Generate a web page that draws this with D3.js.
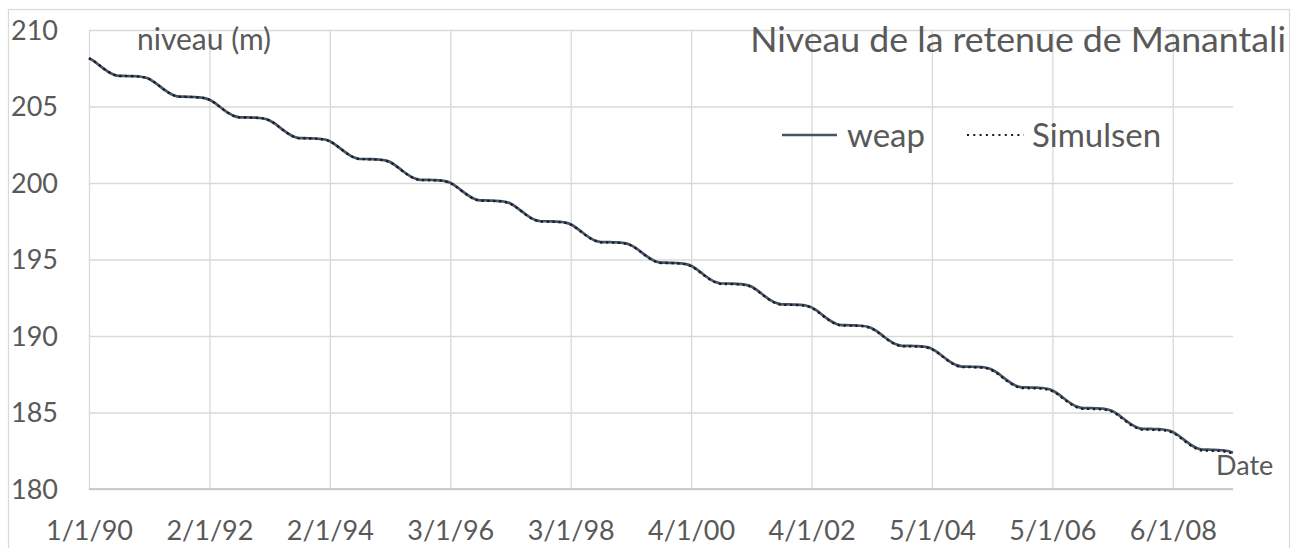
<!DOCTYPE html>
<html>
<head>
<meta charset="utf-8">
<script src="https://cdn.jsdelivr.net/npm/d3@7"></script>
<style>
  html, body { margin: 0; padding: 0; background: #fff; }
  svg { display: block; font-family: Lato, "Open Sans", sans-serif; }
</style>
</head>
<body>
<svg id="chart" width="1298" height="548"></svg>
<script>
// Date labels on the time axis (one label every 24 time steps)
const xTickLabels = ["1/1/90", "2/1/92", "2/1/94", "3/1/96", "3/1/98",
                     "4/1/00", "4/1/02", "5/1/04", "5/1/06", "6/1/08"];
const labelStep = 24;

// Level axis ticks (m)
const yTicks = [180, 185, 190, 195, 200, 205, 210];

// Reservoir level, WEAP model (m), one value per time step
const weap = [
  208.16, 207.96, 207.71, 207.46, 207.24, 207.08, 207.00, 207.00, 206.99, 206.98, 206.96, 206.91,
  206.80, 206.60, 206.35, 206.10, 205.88, 205.72, 205.64, 205.64, 205.63, 205.62, 205.60, 205.55,
  205.44, 205.25, 205.00, 204.75, 204.53, 204.37, 204.29, 204.29, 204.28, 204.27, 204.25, 204.20,
  204.09, 203.89, 203.64, 203.39, 203.17, 203.01, 202.93, 202.93, 202.92, 202.91, 202.89, 202.84,
  202.73, 202.53, 202.28, 202.03, 201.81, 201.65, 201.57, 201.57, 201.56, 201.55, 201.53, 201.48,
  201.37, 201.17, 200.92, 200.67, 200.45, 200.29, 200.21, 200.21, 200.20, 200.19, 200.17, 200.12,
  200.01, 199.82, 199.57, 199.32, 199.10, 198.94, 198.86, 198.86, 198.85, 198.84, 198.82, 198.77,
  198.66, 198.46, 198.21, 197.96, 197.74, 197.58, 197.50, 197.50, 197.49, 197.48, 197.46, 197.41,
  197.30, 197.10, 196.85, 196.60, 196.38, 196.22, 196.14, 196.14, 196.13, 196.12, 196.10, 196.05,
  195.94, 195.75, 195.50, 195.25, 195.03, 194.87, 194.79, 194.79, 194.78, 194.77, 194.75, 194.70,
  194.59, 194.39, 194.14, 193.89, 193.67, 193.51, 193.43, 193.43, 193.42, 193.41, 193.39, 193.34,
  193.23, 193.03, 192.78, 192.53, 192.31, 192.15, 192.07, 192.07, 192.06, 192.05, 192.03, 191.98,
  191.87, 191.67, 191.42, 191.17, 190.95, 190.79, 190.71, 190.71, 190.70, 190.69, 190.67, 190.62,
  190.51, 190.32, 190.07, 189.82, 189.60, 189.44, 189.36, 189.36, 189.35, 189.34, 189.32, 189.27,
  189.16, 188.96, 188.71, 188.46, 188.24, 188.08, 188.00, 188.00, 187.99, 187.98, 187.96, 187.91,
  187.80, 187.60, 187.35, 187.10, 186.88, 186.72, 186.64, 186.64, 186.63, 186.62, 186.60, 186.55,
  186.44, 186.25, 186.00, 185.75, 185.53, 185.37, 185.29, 185.29, 185.28, 185.27, 185.25, 185.20,
  185.09, 184.89, 184.64, 184.39, 184.17, 184.01, 183.93, 183.93, 183.92, 183.91, 183.89, 183.84,
  183.73, 183.53, 183.28, 183.03, 182.81, 182.65, 182.57, 182.57, 182.56, 182.55, 182.53, 182.48,
  182.37
];

// Reservoir level, Simulsen model (m)
const simulsen = [
  208.16, 207.95, 207.71, 207.45, 207.24, 207.07, 207.00, 206.99, 206.99, 206.97, 206.96, 206.90,
  206.80, 206.59, 206.35, 206.09, 205.88, 205.71, 205.64, 205.63, 205.63, 205.61, 205.60, 205.54,
  205.44, 205.24, 205.00, 204.74, 204.53, 204.36, 204.29, 204.28, 204.28, 204.26, 204.25, 204.19,
  204.08, 203.88, 203.63, 203.38, 203.16, 203.00, 202.92, 202.92, 202.91, 202.90, 202.88, 202.83,
  202.72, 202.52, 202.27, 202.02, 201.80, 201.64, 201.56, 201.56, 201.55, 201.54, 201.52, 201.47,
  201.35, 201.15, 200.90, 200.65, 200.43, 200.27, 200.19, 200.19, 200.18, 200.17, 200.15, 200.10,
  199.99, 199.80, 199.55, 199.30, 199.08, 198.92, 198.84, 198.84, 198.83, 198.82, 198.80, 198.75,
  198.64, 198.44, 198.19, 197.94, 197.72, 197.56, 197.48, 197.48, 197.47, 197.46, 197.44, 197.39,
  197.28, 197.08, 196.83, 196.58, 196.36, 196.20, 196.12, 196.12, 196.11, 196.10, 196.08, 196.03,
  195.92, 195.73, 195.48, 195.23, 195.01, 194.85, 194.77, 194.77, 194.76, 194.75, 194.73, 194.68,
  194.56, 194.36, 194.11, 193.86, 193.64, 193.48, 193.40, 193.40, 193.39, 193.38, 193.36, 193.31,
  193.20, 193.00, 192.75, 192.50, 192.28, 192.12, 192.04, 192.04, 192.03, 192.02, 192.00, 191.95,
  191.84, 191.64, 191.39, 191.14, 190.92, 190.76, 190.68, 190.68, 190.67, 190.66, 190.64, 190.59,
  190.48, 190.29, 190.04, 189.79, 189.57, 189.41, 189.33, 189.33, 189.32, 189.31, 189.29, 189.24,
  189.13, 188.93, 188.68, 188.43, 188.21, 188.05, 187.97, 187.97, 187.96, 187.95, 187.93, 187.88,
  187.75, 187.55, 187.30, 187.05, 186.83, 186.67, 186.59, 186.59, 186.58, 186.57, 186.55, 186.50,
  186.39, 186.20, 185.95, 185.70, 185.48, 185.32, 185.24, 185.24, 185.23, 185.22, 185.20, 185.15,
  185.04, 184.84, 184.59, 184.34, 184.12, 183.96, 183.88, 183.88, 183.87, 183.86, 183.84, 183.79,
  183.67, 183.47, 183.22, 182.97, 182.75, 182.59, 182.51, 182.51, 182.50, 182.49, 182.47, 182.42,
  182.30
];

const plot = { left: 89, right: 1233, top: 30, bottom: 489 };
const textColor = "#595959";
const gridColor = "#d9d9d9";
const tickFont = 27;

const svg = d3.select("#chart");

const x = d3.scaleLinear().domain([0, weap.length - 1]).range([plot.left, plot.right]);
const y = d3.scaleLinear().domain([180, 210]).range([plot.bottom, plot.top]);

// Chart frame
svg.append("rect")
  .attr("x", 8.5).attr("y", 9.5)
  .attr("width", 1281).attr("height", 600)
  .attr("fill", "#fff").attr("stroke", gridColor).attr("stroke-width", 1.2);

// Horizontal gridlines + level labels
const yAxis = svg.append("g")
  .attr("transform", `translate(${plot.left},0)`)
  .call(d3.axisLeft(y).tickValues(yTicks).tickSize(-(plot.right - plot.left)).tickPadding(31));
yAxis.select(".domain").remove();
yAxis.selectAll(".tick line").attr("stroke", gridColor).attr("stroke-width", 1.3);
yAxis.selectAll(".tick text")
  .attr("fill", textColor).attr("font-size", tickFont).attr("font-family", "Lato").attr("dy", "0.35em");

// Vertical gridlines + date labels
const xTickIdx = xTickLabels.map((_, i) => i * labelStep);
const xAxis = svg.append("g")
  .attr("transform", `translate(0,${plot.bottom})`)
  .call(d3.axisBottom(x).tickValues(xTickIdx)
    .tickFormat((d, i) => xTickLabels[i])
    .tickSize(-(plot.bottom - plot.top)).tickPadding(32));
xAxis.select(".domain").remove();
xAxis.selectAll(".tick line").attr("stroke", gridColor).attr("stroke-width", 1.3);
xAxis.selectAll(".tick text")
  .attr("fill", textColor).attr("font-size", tickFont).attr("font-family", "Lato");

// Category axis line
svg.append("line")
  .attr("x1", plot.left).attr("x2", plot.right)
  .attr("y1", y(180)).attr("y2", y(180))
  .attr("stroke", "#bfbfbf").attr("stroke-width", 1.6);

// Series
const line = d3.line()
  .x((d, i) => x(i))
  .y(d => y(d))
  .curve(d3.curveMonotoneX);

svg.append("path").datum(weap)
  .attr("d", line).attr("fill", "none")
  .attr("stroke", "#44546a").attr("stroke-width", 2.7)
  .attr("stroke-linejoin", "round");

svg.append("path").datum(simulsen)
  .attr("d", line).attr("fill", "none")
  .attr("stroke", "#1b1b1b").attr("stroke-width", 2.3)
  .attr("stroke-dasharray", "2.3,3.6");

// Axis titles and chart title
svg.append("text").attr("x", 137).attr("y", 49.5)
  .attr("fill", textColor).attr("font-size", 30).text("niveau (m)");
svg.append("text").attr("x", 1216).attr("y", 475)
  .attr("fill", textColor).attr("font-size", tickFont).text("Date");
svg.append("text").attr("x", 1286).attr("y", 52)
  .attr("text-anchor", "end")
  .attr("fill", textColor).attr("font-size", 35.7).text("Niveau de la retenue de Manantali");

// Legend
const legendY = 135;
svg.append("line")
  .attr("x1", 782).attr("x2", 837).attr("y1", legendY).attr("y2", legendY)
  .attr("stroke", "#44546a").attr("stroke-width", 2.7);
svg.append("text").attr("x", 847).attr("y", 147)
  .attr("fill", textColor).attr("font-size", 33).text("weap");
svg.append("line")
  .attr("x1", 967).attr("x2", 1024).attr("y1", legendY).attr("y2", legendY)
  .attr("stroke", "#1b1b1b").attr("stroke-width", 2)
  .attr("stroke-dasharray", "2,4.3");
svg.append("text").attr("x", 1032).attr("y", 147)
  .attr("fill", textColor).attr("font-size", 33).text("Simulsen");
</script>
</body>
</html>
